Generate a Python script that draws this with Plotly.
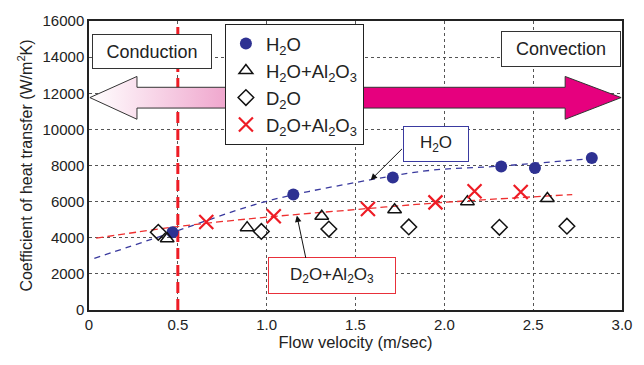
import plotly.graph_objects as go

# ---------------- data ----------------
h2o_x = [0.47, 1.15, 1.71, 2.32, 2.51, 2.83]
h2o_y = [4300, 6400, 7340, 7950, 7860, 8410]

h2o_al_x = [0.44, 0.89, 1.31, 1.72, 2.13, 2.58]
h2o_al_y = [3940, 4560, 5190, 5550, 6000, 6170]

d2o_x = [0.39, 0.97, 1.35, 1.80, 2.31, 2.69]
d2o_y = [4300, 4350, 4480, 4600, 4580, 4640]

d2o_al_x = [0.66, 1.04, 1.57, 1.95, 2.17, 2.43]
d2o_al_y = [4870, 5190, 5590, 5960, 6570, 6530]

# trend curves
h2o_fit_x = [0.03, 0.14, 0.50, 1.00, 1.58, 1.92, 2.30, 2.82]
h2o_fit_y = [2860, 3220, 4400, 6020, 7200, 7730, 7960, 8380]
d2o_al_fit_x = [0.04, 0.50, 1.00, 1.50, 1.97, 2.72]
d2o_al_fit_y = [3975, 4620, 5140, 5560, 5940, 6390]

boundary_velocity = 0.5

x_ticks = [0, 0.5, 1.0, 1.5, 2.0, 2.5, 3.0]
x_tick_text = ["0", "0.5", "1.0", "1.5", "2.0", "2.5", "3.0"]
y_ticks = [0, 2000, 4000, 6000, 8000, 10000, 12000, 14000, 16000]

FONT = "Liberation Sans, Arial, sans-serif"
BLUE = "#2E3192"
RED = "#EE1C25"

fig = go.Figure()

# vertical boundary line
fig.add_trace(go.Scatter(x=[boundary_velocity, boundary_velocity], y=[0, 16000],
                         mode="lines", line=dict(color=RED, width=3, dash="11px,6px"),
                         showlegend=False, hoverinfo="skip"))

# double arrow: left (gradient, conduction) and right (magenta, convection)
yc, bt, bb, ht, hb = 11760, 12330, 11180, 12930, 10560
fig.add_trace(go.Scatter(
    x=[0.005, 0.27, 0.27, 0.95, 0.95, 0.27, 0.27, 0.005],
    y=[yc, ht, bt, bt, bb, bb, hb, yc],
    mode="lines", fill="toself",
    fillgradient=dict(type="horizontal", colorscale=[[0, "#FFFFFF"], [1, "#EC92C2"]]),
    line=dict(color="#333333", width=1), showlegend=False, hoverinfo="skip"))
fig.add_trace(go.Scatter(
    x=[1.4, 2.68, 2.68, 2.995, 2.68, 2.68, 1.4, 1.4],
    y=[bt, bt, ht, yc, hb, bb, bb, bt],
    mode="lines", fill="toself", fillcolor="#E6007E",
    line=dict(color="#333333", width=1), showlegend=False, hoverinfo="skip"))

# trend lines
fig.add_trace(go.Scatter(x=h2o_fit_x, y=h2o_fit_y, mode="lines", line_shape="spline",
                         line=dict(color="#3A3A9E", width=1.3, dash="6px,5px"),
                         showlegend=False, hoverinfo="skip"))
fig.add_trace(go.Scatter(x=d2o_al_fit_x, y=d2o_al_fit_y, mode="lines", line_shape="spline",
                         line=dict(color="#EE3030", width=1.3, dash="7px,4px"),
                         showlegend=False, hoverinfo="skip"))

# data series
fig.add_trace(go.Scatter(x=h2o_x, y=h2o_y, mode="markers", name="H<sub>2</sub>O",
                         marker=dict(symbol="circle", size=12, color=BLUE)))
fig.add_trace(go.Scatter(x=h2o_al_x, y=h2o_al_y, mode="markers",
                         name="H<sub>2</sub>O+Al<sub>2</sub>O<sub>3</sub>",
                         marker=dict(symbol="triangle-up-open", size=12, color="#111111",
                                     line=dict(width=1.5))))
fig.add_trace(go.Scatter(x=d2o_x, y=d2o_y, mode="markers", name="D<sub>2</sub>O",
                         marker=dict(symbol="diamond-open", size=12, color="#111111",
                                     line=dict(width=1.5))))
fig.add_trace(go.Scatter(x=d2o_al_x, y=d2o_al_y, mode="markers",
                         name="D<sub>2</sub>O+Al<sub>2</sub>O<sub>3</sub>",
                         marker=dict(symbol="x-thin-open", size=14, color=RED,
                                     line=dict(width=2.2, color=RED))))

annotations = [
    dict(x=0.3545, y=14310, xref="x", yref="y", text="Conduction", showarrow=False,
         width=116, height=31, bgcolor="white", bordercolor="#333333", borderwidth=1,
         font=dict(size=18, color="#222222", family=FONT)),
    dict(x=2.656, y=14440, xref="x", yref="y", text="Convection", showarrow=False,
         width=116, height=32, bgcolor="white", bordercolor="#333333", borderwidth=1,
         font=dict(size=18, color="#222222", family=FONT)),
    dict(x=1.953, y=9180, xref="x", yref="y", text="H<sub>2</sub>O", showarrow=False,
         width=62, height=32, bgcolor="white", bordercolor="#3A3AA0", borderwidth=1,
         font=dict(size=17, color="#222222", family=FONT)),
    dict(x=1.367, y=1900, xref="x", yref="y",
         text="D<sub>2</sub>O+Al<sub>2</sub>O<sub>3</sub>", showarrow=False,
         width=124, height=33, bgcolor="white", bordercolor="#E8303A", borderwidth=1,
         font=dict(size=17, color="#222222", family=FONT)),
    # arrows
    dict(x=1.585, y=7190, ax=1.77, ay=9000, xref="x", yref="y", axref="x", ayref="y",
         text="", showarrow=True, arrowhead=2, arrowsize=1.3, arrowwidth=1,
         arrowcolor="#111111"),
    dict(x=1.17, y=5230, ax=1.222, ay=2800, xref="x", yref="y", axref="x", ayref="y",
         text="", showarrow=True, arrowhead=2, arrowsize=1.3, arrowwidth=1,
         arrowcolor="#111111"),
]

fig.update_layout(
    width=644, height=365,
    margin=dict(l=89, r=22, t=12, b=55),
    paper_bgcolor="white", plot_bgcolor="white",
    font=dict(family=FONT, size=15, color="#222222"),
    showlegend=True,
    legend=dict(x=0.255, y=0.99, xanchor="left", yanchor="top",
                bgcolor="white", bordercolor="#222222", borderwidth=1,
                font=dict(size=18.5, color="#222222", family=FONT),
                tracegroupgap=0, itemwidth=30),
    annotations=annotations,
)
fig.update_xaxes(range=[0, 3.0], tickvals=x_ticks, ticktext=x_tick_text,
                 showgrid=True, gridcolor="#555555", griddash="dot", gridwidth=1,
                 showline=True, linecolor="#222222", linewidth=1.5, mirror=True,
                 ticks="", zeroline=False, tickfont=dict(size=15),
                 title=dict(text="Flow velocity (m/sec)", font=dict(size=16.5), standoff=4))
fig.update_yaxes(range=[0, 16000], tickvals=y_ticks, tickformat="d",
                 showgrid=True, gridcolor="#555555", griddash="dot", gridwidth=1,
                 showline=True, linecolor="#222222", linewidth=1.5, mirror=True,
                 ticks="", zeroline=False, tickfont=dict(size=15),
                 title=dict(text="Coefficient of heat transfer (W/m<sup>2</sup>K)",
                            font=dict(size=16), standoff=6))

fig.write_html("out.html", config={"displayModeBar": False},
               post_script="document.body.style.margin='0px';")
